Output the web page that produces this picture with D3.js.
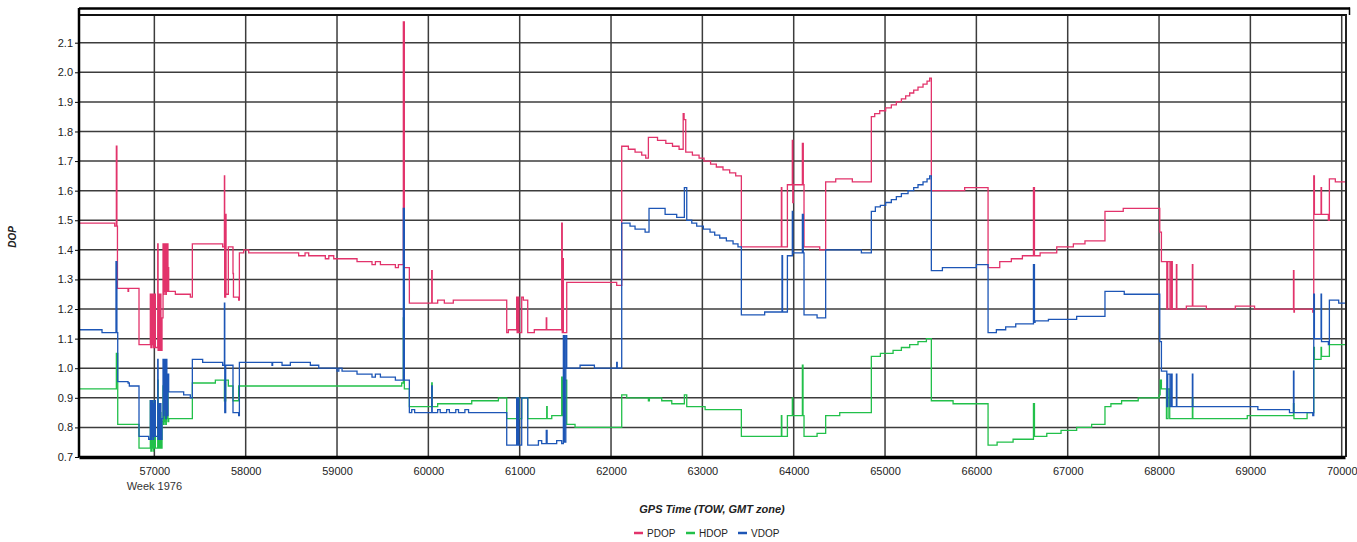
<!DOCTYPE html>
<html>
<head>
<meta charset="utf-8">
<script src="https://cdn.jsdelivr.net/npm/d3@7"></script>
<style>
  body { margin: 0; background: #fff; }
  text { font-family: "Liberation Sans", Arial, sans-serif; }
</style>
</head>
<body>
<div id="chart"></div>
<script>
// GPS time of week (s) and DOP value, each value holds until the next point
var pdop = [
  [56175,1.49],[56566,1.48],[56584,1.75],[56590,1.48],[56596,1.27],[56712,1.26],[56718,1.27],[56832,1.08],
  [56956,1.25],[56962,1.07],[56968,1.25],[56974,1.08],[56980,1.25],[56986,1.07],[56992,1.25],[56998,1.07],[57004,1.25],[57011,1.07],
  [57037,1.42],[57041,1.06],[57051,1.25],[57058,1.06],[57066,1.25],[57072,1.06],[57084,1.17],
  [57095,1.42],[57101,1.25],[57107,1.42],[57113,1.26],[57119,1.42],[57125,1.25],[57131,1.42],[57137,1.26],[57143,1.42],[57149,1.34],[57157,1.26],
  [57230,1.25],[57394,1.24],[57416,1.42],[57748,1.41],[57767,1.65],[57770,1.24],[57781,1.52],[57785,1.25],[57810,1.41],
  [57861,1.32],[57866,1.24],[57923,1.23],[57931,1.39],[57978,1.40],[58033,1.39],[58580,1.38],[58650,1.39],[58690,1.38],
  [58872,1.37],[58910,1.38],[58964,1.37],[59219,1.36],[59383,1.35],[59420,1.36],[59475,1.35],[59639,1.34],[59672,1.35],
  [59726,2.17],[59737,1.34],[59792,1.22],[60037,1.33],[60042,1.22],[60102,1.23],[60175,1.22],[60273,1.23],
  [60858,1.12],[60876,1.13],[60967,1.24],[60972,1.12],[60986,1.24],[60991,1.12],[61022,1.24],[61040,1.23],[61088,1.12],
  [61160,1.13],[61291,1.17],[61296,1.13],[61460,1.49],[61466,1.12],[61472,1.37],[61478,1.12],[61515,1.29],[62062,1.28],
  [62117,1.75],[62190,1.74],[62263,1.73],[62336,1.72],[62380,1.71],[62409,1.78],[62509,1.77],[62600,1.76],[62673,1.75],
  [62745,1.74],[62790,1.86],[62800,1.84],[62818,1.73],[62891,1.72],[62964,1.71],[63018,1.70],[63090,1.69],[63153,1.68],
  [63226,1.67],[63299,1.66],[63365,1.65],[63427,1.41],[63865,1.61],[63870,1.41],[63931,1.62],[63985,1.77],[63990,1.56],
  [63995,1.62],[64095,1.76],[64105,1.62],[64113,1.41],[64285,1.40],[64350,1.63],[64460,1.64],[64642,1.63],[64850,1.85],
  [64887,1.86],[64942,1.87],[65007,1.88],[65069,1.89],[65124,1.90],[65179,1.91],[65226,1.92],[65270,1.93],[65314,1.94],
  [65361,1.95],[65416,1.96],[65460,1.97],[65489,1.98],[65507,1.60],[65872,1.61],[66128,1.34],[66256,1.36],[66383,1.37],
  [66504,1.38],[66625,1.61],[66636,1.38],[66698,1.39],[66880,1.41],[67062,1.42],[67189,1.43],[67408,1.53],[67608,1.54],
  [68008,1.46],[68026,1.36],[68085,1.20],[68095,1.36],[68120,1.20],[68135,1.36],[68145,1.20],[68190,1.35],[68195,1.20],
  [68299,1.21],[68365,1.35],[68370,1.21],[68518,1.20],[68835,1.21],[69046,1.20],[69472,1.33],[69477,1.19],[69482,1.20],
  [69683,1.19],[69694,1.65],[69701,1.52],[69774,1.61],[69779,1.52],[69854,1.50],[69865,1.64],[69930,1.63],[70036,1.63]
];

var hdop = [
  [56175,0.93],[56584,1.05],[56599,0.81],[56832,0.73],
  [56956,0.89],[56962,0.72],[56968,0.86],[56974,0.73],[56980,0.89],[56986,0.72],[56992,0.86],[56998,0.73],[57004,0.88],[57011,0.73],
  [57037,0.96],[57041,0.73],[57051,0.86],[57058,0.73],[57066,0.85],[57072,0.73],[57084,0.82],
  [57095,0.94],[57101,0.81],[57107,0.94],[57113,0.82],[57119,0.94],[57125,0.81],[57131,0.94],[57137,0.83],[57143,0.92],[57149,0.82],[57157,0.83],
  [57416,0.95],[57668,0.96],[57767,0.89],[57781,0.96],[57810,0.94],[57861,0.89],[57923,0.94],
  [59708,0.95],[59726,1.17],[59737,0.93],[59792,0.87],[60037,0.95],[60042,0.87],[60102,0.88],[60475,0.89],[60767,0.90],
  [60858,0.83],[60967,0.90],[60972,0.83],[60986,0.90],[60991,0.83],[61022,0.90],[61088,0.83],[61296,0.87],[61301,0.83],
  [61351,0.84],[61460,0.97],[61466,0.84],[61478,0.96],[61515,0.81],[61606,0.80],[62117,0.91],[62172,0.90],[62409,0.89],
  [62420,0.90],[62555,0.89],[62665,0.88],[62803,0.91],[62829,0.87],[63030,0.86],[63427,0.77],[63865,0.84],[63870,0.77],
  [63931,0.84],[63985,0.90],[63990,0.84],[64095,1.01],[64102,0.84],[64113,0.77],[64256,0.78],[64350,0.84],[64504,0.85],
  [64850,1.04],[64949,1.05],[65088,1.06],[65179,1.07],[65270,1.08],[65361,1.09],[65453,1.10],[65507,0.89],[65745,0.88],
  [66128,0.74],[66227,0.75],[66402,0.76],[66625,0.88],[66636,0.77],[66771,0.78],[66927,0.79],[67098,0.80],[67262,0.81],
  [67408,0.87],[67473,0.88],[67590,0.89],[67772,0.90],[68001,0.91],[68012,0.96],[68026,0.93],[68081,0.83],[68099,0.93],
  [68117,0.83],[68365,0.90],[68370,0.83],[68966,0.84],[69472,0.88],[69477,0.83],[69621,0.85],[69694,1.07],[69701,1.03],
  [69774,1.07],[69779,1.04],[69865,1.08],[70036,1.08]
];

var vdop = [
  [56175,1.13],[56427,1.12],[56580,1.36],[56590,1.12],[56599,0.955],[56712,0.95],[56726,0.94],[56832,0.77],[56938,0.76],
  [56956,0.89],[56962,0.76],[56968,0.89],[56974,0.77],[56980,0.89],[56986,0.76],[56992,0.88],[56998,0.77],[57004,0.89],[57011,0.77],
  [57037,1.03],[57041,0.76],[57051,0.88],[57058,0.76],[57066,0.88],[57072,0.76],[57084,0.83],
  [57095,1.03],[57101,0.84],[57107,1.03],[57113,0.86],[57119,1.03],[57125,0.83],[57131,1.03],[57137,0.98],[57143,0.84],[57149,0.98],[57157,0.92],
  [57321,0.91],[57394,0.90],[57416,1.03],[57529,1.02],[57748,1.01],[57767,1.22],[57771,0.85],[57781,1.01],[57861,0.85],
  [57923,0.84],[57931,1.02],[58288,1.01],[58295,1.02],[58398,1.01],[58489,1.02],[58708,1.01],[58800,1.00],[59000,0.99],
  [59020,1.00],[59055,0.99],[59219,0.98],[59383,0.97],[59420,0.98],[59475,0.97],[59639,0.96],[59672,0.96],[59726,1.54],
  [59737,0.96],[59792,0.85],[59818,0.86],[59850,0.85],[60037,0.94],[60042,0.85],[60102,0.86],[60130,0.85],[60200,0.86],
  [60230,0.85],[60300,0.86],[60330,0.85],[60400,0.86],[60440,0.85],[60858,0.74],[60967,0.90],[60972,0.74],[60986,0.90],
  [60991,0.74],[61022,0.90],[61088,0.74],[61205,0.755],[61241,0.745],[61291,0.79],[61300,0.745],[61405,0.755],[61460,0.745],
  [61478,1.11],[61490,0.75],[61505,1.11],[61515,1.00],[61661,1.01],[61818,1.00],[62062,1.02],[62068,1.00],[62117,1.49],
  [62208,1.48],[62263,1.47],[62373,1.46],[62416,1.54],[62592,1.52],[62719,1.51],[62803,1.61],[62829,1.50],[62884,1.49],
  [62938,1.48],[63011,1.47],[63084,1.46],[63135,1.45],[63190,1.44],[63263,1.43],[63336,1.42],[63390,1.41],[63427,1.18],
  [63682,1.19],[63872,1.38],[63878,1.19],[63931,1.38],[63985,1.53],[63990,1.39],[64095,1.52],[64105,1.39],[64113,1.18],
  [64256,1.17],[64350,1.40],[64741,1.39],[64850,1.53],[64894,1.545],[64949,1.55],[65007,1.56],[65069,1.57],[65124,1.58],
  [65179,1.59],[65252,1.60],[65314,1.61],[65361,1.62],[65416,1.63],[65460,1.64],[65489,1.65],[65507,1.33],[65628,1.34],
  [66000,1.35],[66128,1.12],[66219,1.13],[66321,1.14],[66431,1.15],[66625,1.35],[66636,1.155],[66643,1.16],[66789,1.165],
  [67098,1.175],[67408,1.26],[67619,1.25],[68008,1.09],[68026,0.99],[68085,0.87],[68095,0.98],[68120,0.87],[68135,0.98],
  [68143,0.87],[68190,0.98],[68195,0.87],[68365,0.98],[68370,0.87],[69082,0.86],[69428,0.85],[69472,0.99],[69477,0.85],
  [69683,0.84],[69694,1.25],[69701,1.10],[69774,1.25],[69779,1.09],[69854,1.08],[69865,1.23],[69967,1.22],[70036,1.22]
];

var yTicks = [0.7, 0.8, 0.9, 1.0, 1.1, 1.2, 1.3, 1.4, 1.5, 1.6, 1.7, 1.8, 1.9, 2.0, 2.1];
var xTicks = [57000, 58000, 59000, 60000, 61000, 62000, 63000, 64000, 65000, 66000, 67000, 68000, 69000, 70000];
var seriesNames = ["PDOP", "HDOP", "VDOP"];
var seriesColors = ["#e2336b", "#22c04a", "#1d56b6"];

var width = 1357, height = 542;
var plotLeft = 79, plotRight = 1345, plotTop = 15, plotBottom = 457;

var svg = d3.select("#chart").append("svg")
  .attr("width", width)
  .attr("height", height);

var x = d3.scaleLinear().domain([56175, 70036]).range([plotLeft, plotRight]);
var y = d3.scaleLinear().domain([0.7, 2.1936]).range([plotBottom, plotTop]);

// grid
svg.append("g")
  .selectAll("line")
  .data(xTicks)
  .join("line")
  .attr("x1", d => x(d)).attr("x2", d => x(d))
  .attr("y1", plotTop).attr("y2", plotBottom)
  .attr("stroke", "#3c3c3c")
  .attr("stroke-width", 1.5);

svg.append("g")
  .selectAll("line")
  .data(yTicks)
  .join("line")
  .attr("x1", plotLeft).attr("x2", plotRight)
  .attr("y1", d => y(d)).attr("y2", d => y(d))
  .attr("stroke", "#3c3c3c")
  .attr("stroke-width", 1.5);

// frame
svg.append("line").attr("x1", plotLeft).attr("x2", 1350).attr("y1", 8.5).attr("y2", 8.5)
  .attr("stroke", "#000").attr("stroke-width", 2.5);
svg.append("line").attr("x1", plotLeft).attr("x2", plotRight + 2).attr("y1", plotTop).attr("y2", plotTop)
  .attr("stroke", "#111").attr("stroke-width", 1.8);
svg.append("line").attr("x1", 1349.5).attr("x2", 1349.5).attr("y1", 7.5).attr("y2", plotTop)
  .attr("stroke", "#000").attr("stroke-width", 1.5);
svg.append("line").attr("x1", plotRight + 1).attr("x2", plotRight + 1).attr("y1", plotTop).attr("y2", plotBottom)
  .attr("stroke", "#222").attr("stroke-width", 2);

// clip
svg.append("clipPath").attr("id", "plot")
  .append("rect").attr("x", plotLeft).attr("y", plotTop)
  .attr("width", plotRight - plotLeft).attr("height", plotBottom - plotTop);

var line = d3.line()
  .x(d => x(d[0]))
  .y(d => y(d[1]))
  .curve(d3.curveStepAfter);

var series = [pdop, hdop, vdop];
svg.append("g")
  .attr("clip-path", "url(#plot)")
  .selectAll("path")
  .data(series)
  .join("path")
  .attr("d", line)
  .attr("fill", "none")
  .attr("stroke", (d, i) => seriesColors[i])
  .attr("stroke-width", 1.3);

// axes
var yAxis = d3.axisLeft(y).tickValues(yTicks).tickFormat(d3.format(".1f")).tickSize(4);
var gy = svg.append("g").attr("transform", "translate(" + plotLeft + ",0)").call(yAxis);
gy.select(".domain").attr("stroke", "#000").attr("stroke-width", 2.5).attr("d", "M0,8V" + plotBottom);
gy.selectAll(".tick text").attr("font-size", 11).attr("fill", "#222").attr("x", -6);

var xAxis = d3.axisBottom(x).tickValues(xTicks).tickFormat(d3.format("d")).tickSize(0);
var gx = svg.append("g").attr("transform", "translate(0," + plotBottom + ")").call(xAxis);
gx.select(".domain").attr("stroke", "#000").attr("stroke-width", 3.5);
gx.selectAll(".tick text").attr("font-size", 11).attr("fill", "#222").attr("dy", "1.35em");

svg.append("text")
  .attr("x", x(57000)).attr("y", 490)
  .attr("text-anchor", "middle")
  .attr("font-size", 11).attr("fill", "#333")
  .text("Week 1976");

svg.append("text")
  .attr("x", 712).attr("y", 513)
  .attr("text-anchor", "middle")
  .attr("font-size", 11).attr("font-weight", "bold").attr("font-style", "italic").attr("fill", "#222")
  .text("GPS Time (TOW, GMT zone)");

svg.append("text")
  .attr("transform", "translate(16,237) rotate(-90)")
  .attr("text-anchor", "middle")
  .attr("font-size", 10).attr("font-weight", "bold").attr("font-style", "italic").attr("fill", "#222")
  .text("DOP");

// legend
var legend = svg.append("g").attr("transform", "translate(634,537)");
var item = legend.selectAll("g")
  .data(seriesNames)
  .join("g")
  .attr("transform", (d, i) => "translate(" + (i * 52) + ",0)");
item.append("line")
  .attr("x1", 0).attr("x2", 9).attr("y1", -4).attr("y2", -4)
  .attr("stroke", (d, i) => seriesColors[i]).attr("stroke-width", 2.5);
item.append("text")
  .attr("x", 13).attr("y", 0)
  .attr("font-size", 10).attr("fill", "#222")
  .text(d => d);
</script>
</body>
</html>
